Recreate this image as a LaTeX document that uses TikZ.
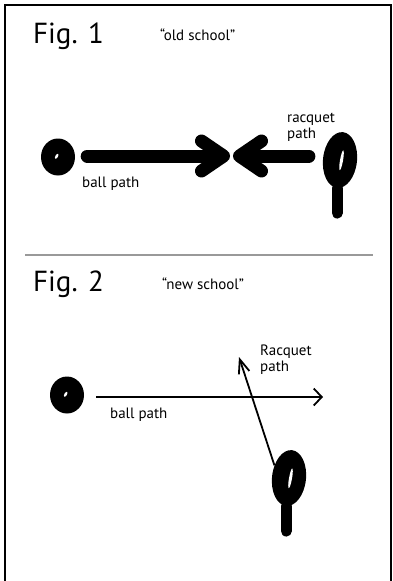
\documentclass[tikz,border=0pt]{standalone}
\usepackage{fontspec}
\setmainfont{PT Sans}
\usetikzlibrary{shapes.geometric,arrows.meta,positioning}

\tikzset{
  ball/.style={ellipse, fill=black, inner sep=0pt, minimum width=34pt, minimum height=37pt},
  head/.style={ellipse, fill=black, inner sep=0pt, minimum width=34pt, minimum height=56pt, rotate=-6},
  hole/.style={fill=white},
  handle/.style={line width=11pt, line cap=round},
  fat/.style={line width=13pt, line cap=round, line join=round, -{Straight Barb[round,length=22pt,width=30pt]}},
  thin/.style={line width=1.8pt},
  lbl/.style={anchor=base west, inner sep=0pt, font=\fontsize{15}{16}\selectfont},
  fig/.style={anchor=base west, inner sep=0pt, font=\fontsize{29}{30}\selectfont},
}

\begin{document}
\begin{tikzpicture}[x=1pt,y=1pt]
\useasboundingbox (0,0) rectangle (393,-581);

\draw[line width=2.6pt] (5,-590) -- (5,-5) -- (391,-5) -- (391,-590);
\draw[line width=2pt, black!40] (25,-255) -- (373,-255);

\node[fig] (fig1) at (33,-43) {Fig. 1};
\node[lbl] (old) at (160,-40) {“old school”};

\node[ball] (ball1) at (58,-157) {};
\fill[hole, rotate around={-30:(ball1.center)}] ([xshift=-1.5pt]ball1.center) ellipse (1.3 and 2.8);
\node[head] (rq1) at (340,-160) {};
\fill[hole, rotate around={-10:(rq1.center)}] ([xshift=1.5pt]rq1.center) ellipse (1.5 and 10);
\draw[handle] (rq1.south) -- ++(0,-25);
\coordinate (hit) at (231.5,-156);
\draw[fat, shorten <=12pt, shorten >=1.5pt] (ball1.east |- hit) -- (hit);
\draw[fat, shorten <=14pt, shorten >=1.5pt] (rq1.west |- hit) -- (hit);
\node[lbl] (bp1) at (82,-187) {ball path};
\node[lbl] (rp1a) at (287,-122) {racquet};
\node[lbl] (rp1b) at (287,-138) {path};

\node[fig] (fig2) at (33,-291) {Fig. 2};
\node[lbl] (new) at (162,-289) {“new school”};

\node[ball] (ball2) at (67,-395) {};
\fill[hole, rotate around={-30:(ball2.center)}] ([xshift=-1.5pt]ball2.center) ellipse (1.3 and 2.8);
\node[head] (rq2) at (289,-478) {};
\fill[hole, rotate around={-10:(rq2.center)}] ([xshift=1.5pt]rq2.center) ellipse (1.5 and 10);
\draw[handle] (rq2.south) -- ++(0,-25);
\coordinate (bpend) at (323,-397);
\coordinate (rqtip) at (239,-357);
\draw[thin, -{Straight Barb[length=8pt,width=17pt]}, shorten <=12pt] (ball2.east |- bpend) -- (bpend);
\draw[thin, -{Straight Barb[length=14pt,width=11pt]}] (rq2.145) -- (rqtip);
\node[lbl] (bp2) at (110,-418) {ball path};
\node[lbl] (rp2a) at (260,-355) {Racquet};
\node[lbl] (rp2b) at (260,-371) {path};
\end{tikzpicture}
\end{document}
